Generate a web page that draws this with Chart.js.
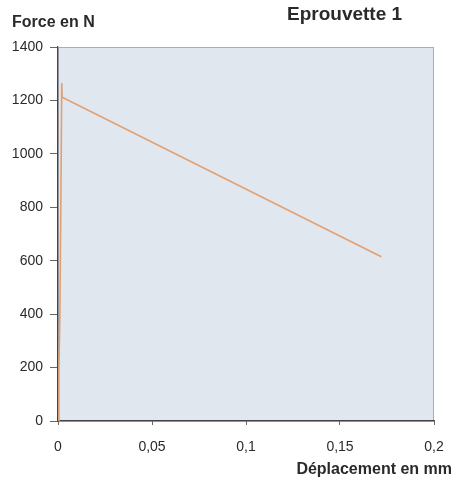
<!DOCTYPE html>
<html>
<head>
<meta charset="utf-8">
<script src="https://cdn.jsdelivr.net/npm/chart.js@4"></script>
<style>
  html, body { margin: 0; padding: 0; background: #fff; }
  #wrap { width: 453px; height: 481px; }
</style>
</head>
<body>
<div id="wrap"><canvas id="force-chart" width="453" height="481"></canvas></div>
<script>
// Eprouvette 1 - force / displacement

const displacement = [0, 0.0005, 0.001, 0.0015, 0.002, 0.0022, 0.172];
const force = [0, 200, 400, 800, 1265, 1212, 615];
const xTicks = [0, 0.05, 0.1, 0.15, 0.2];
const yTicks = [0, 200, 400, 600, 800, 1000, 1200, 1400];

const points = displacement.map((x, i) => ({ x: x, y: force[i] }));

const font = { family: "'Liberation Sans', Arial, sans-serif", size: 14 };

// plot background + frame + text labels
const decor = {
    id: 'decor',
    beforeDraw(chart) {
        const { ctx, chartArea: a } = chart;
        ctx.save();
        ctx.fillStyle = '#e1e7ef';
        ctx.fillRect(a.left, a.top, a.right - a.left, a.bottom - a.top);
        ctx.strokeStyle = '#a8adb3';
        ctx.lineWidth = 1;
        ctx.strokeRect(a.left + 0.5, a.top + 0.5, a.right - a.left - 1, a.bottom - a.top);
        ctx.restore();
    },
    afterDraw(chart) {
        const ctx = chart.ctx;
        ctx.save();
        ctx.fillStyle = '#2a2a2a';
        ctx.textBaseline = 'middle';
        ctx.font = "bold 16px 'Liberation Sans', Arial, sans-serif";
        ctx.textAlign = 'left';
        ctx.fillText('Force en N', 12, 23);
        ctx.font = "bold 19px 'Liberation Sans', Arial, sans-serif";
        ctx.fillText('Eprouvette 1', 287, 15);
        ctx.font = "bold 16px 'Liberation Sans', Arial, sans-serif";
        ctx.textAlign = 'right';
        ctx.fillText('Déplacement en mm', 452, 470);
        ctx.restore();
    }
};

new Chart(document.getElementById('force-chart'), {
    type: 'scatter',
    data: {
        datasets: [{
            label: 'Eprouvette 1',
            data: points,
            showLine: true,
            borderColor: '#e0a074',
            borderWidth: 1.6,
            pointRadius: 0,
            tension: 0
        }]
    },
    options: {
        responsive: false,
        animation: false,
        layout: { padding: { top: 47, right: 0, left: 0, bottom: 0 } },
        plugins: { legend: { display: false }, tooltip: { enabled: false } },
        scales: {
            x: {
                type: 'linear',
                min: 0,
                max: 0.2,
                afterBuildTicks: s => { s.ticks = xTicks.map(v => ({ value: v })); },
                afterFit: s => { s.height = 60; s.paddingRight = 19; },
                border: { color: '#444', width: 1.2 },
                grid: { drawOnChartArea: false, tickLength: 4, color: '#666' },
                ticks: {
                    color: '#2a2a2a',
                    font: font,
                    padding: 14,
                    maxRotation: 0,
                    callback: v => String(Math.round(v * 100) / 100).replace('.', ',')
                }
            },
            y: {
                min: 0,
                max: 1400,
                afterBuildTicks: s => { s.ticks = yTicks.map(v => ({ value: v })); },
                afterFit: s => { s.width = 58; },
                border: { color: '#444', width: 1.2 },
                grid: { drawOnChartArea: false, tickLength: 8, color: '#666' },
                ticks: {
                    color: '#2a2a2a',
                    font: font,
                    padding: 7,
                    callback: v => String(v)
                }
            }
        }
    },
    plugins: [decor]
});
</script>
</body>
</html>
